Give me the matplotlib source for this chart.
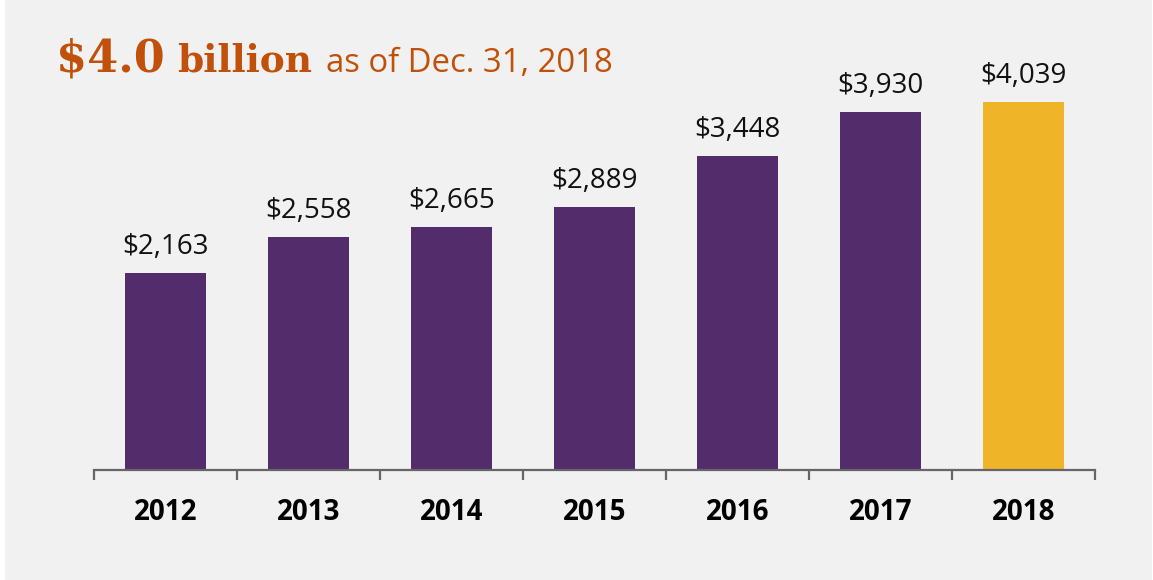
import matplotlib.pyplot as plt
from matplotlib.patches import Rectangle
import numpy as np

years = ['2012', '2013', '2014', '2015', '2016', '2017', '2018']
values = [2163, 2558, 2665, 2889, 3448, 3930, 4039]
labels = ['$2,163', '$2,558', '$2,665', '$2,889', '$3,448', '$3,930', '$4,039']

purple = '#532c6b'
gold = '#f0b428'
rust = '#c0500a'
bg = '#f1f1f1'

W, H = 1153, 580
fig = plt.figure(figsize=(W / 100, H / 100), dpi=100, facecolor='white')
# grey panel, thin white strip on the left
fig.patches.append(Rectangle((5 / W, 0), 1 - 6 / W, 1, transform=fig.transFigure,
                             facecolor=bg, edgecolor='none', zorder=-10))

ax = fig.add_axes([94 / W, 1 - 470 / H, 1001 / W, 410 / H])
ax.set_facecolor('none')

x = np.arange(len(years))
colors = [purple] * (len(years) - 1) + [gold]
bars = ax.bar(x, values, width=0.56, color=colors, zorder=2)

ax.set_xlim(-0.5, len(years) - 0.5)
ax.set_ylim(0, 4500)

for xi, v, lab in zip(x, values, labels):
    ax.annotate(lab, xy=(xi, v), xytext=(0, 13.5), textcoords='offset points',
                ha='center', va='baseline', fontsize=20, family='Open Sans',
                color='#111111')

for s in ['top', 'right', 'left']:
    ax.spines[s].set_visible(False)
ax.spines['bottom'].set_color('#666666')
ax.spines['bottom'].set_linewidth(1.6)
ax.set_yticks([])

ax.set_xticks(x)
ax.set_xticklabels(years, fontsize=20, fontweight='bold', family='Open Sans')
ax.tick_params(axis='x', which='major', length=0, pad=20)
ax.set_xticks(np.arange(-0.5, len(years)), minor=True)
ax.tick_params(axis='x', which='minor', length=7.5, width=1.6, color='#666666')

# title built from three pieces on one baseline
base_y = 1 - 72 / H
t1 = fig.text(56 / W, base_y, '$4.0', fontsize=32, fontweight='bold',
              family='DejaVu Serif', color=rust, va='baseline')
fig.canvas.draw()
r = fig.canvas.get_renderer()
bb = t1.get_window_extent(r)
t2 = fig.text((bb.x1 + 12) / W, base_y, 'billion', fontsize=27, fontweight='bold',
              family='DejaVu Serif', color=rust, va='baseline')
bb = t2.get_window_extent(r)
t3 = fig.text((bb.x1 + 14) / W, base_y, 'as of Dec. 31, 2018', fontsize=23.7,
              family='Open Sans', color=rust, va='baseline')

fig.savefig('out.png', dpi=100, facecolor=fig.get_facecolor())
